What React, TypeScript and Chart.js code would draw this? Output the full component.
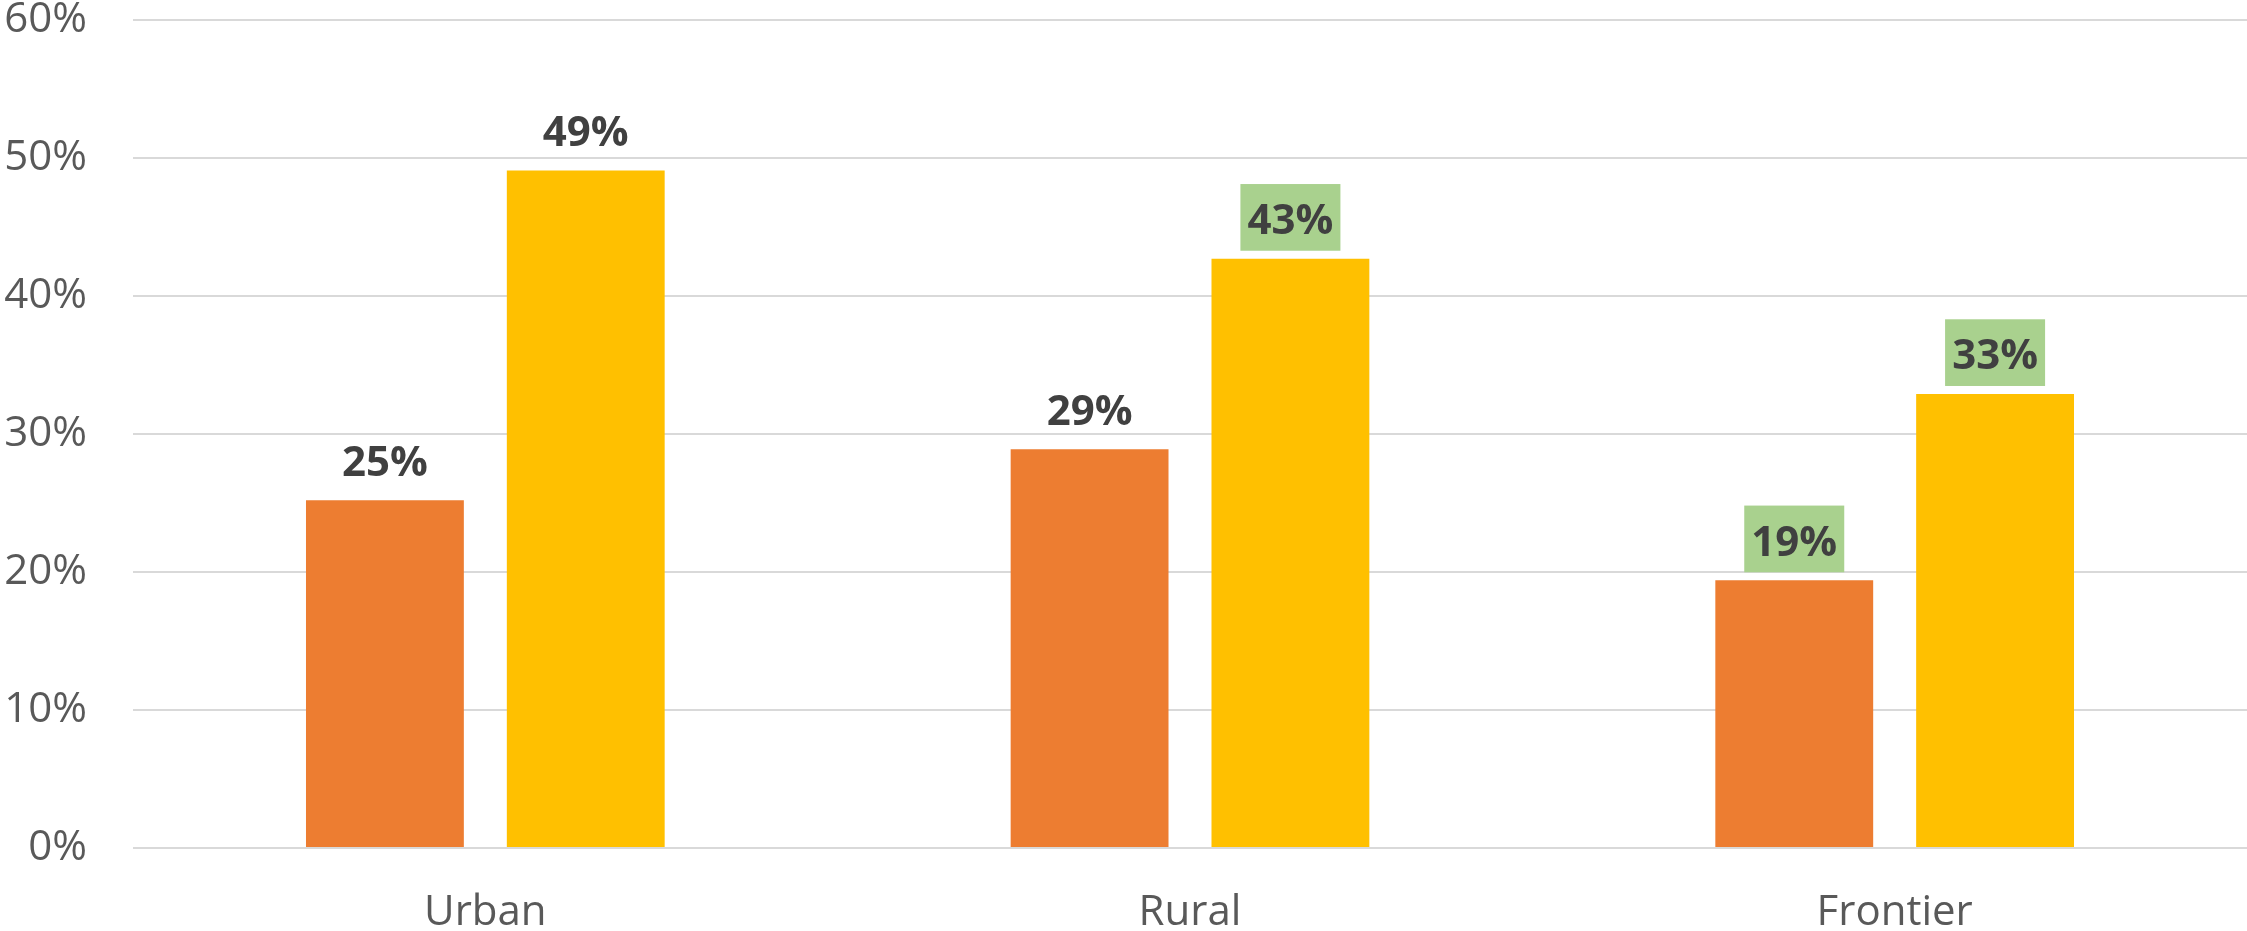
import { useEffect, useRef } from "react";
import { Chart, registerables } from "chart.js";

Chart.register(...registerables);

const categories = ["Urban", "Rural", "Frontier"];
const seriesAValues = [25.2, 28.9, 19.4];
const seriesBValues = [49.1, 42.7, 32.9];
const seriesAHighlight = [false, false, true];
const seriesBHighlight = [false, true, true];
const yMin = 0;
const yMax = 60;
const yStep = 10;

const FONT = "'Open Sans', 'Noto Sans', sans-serif";

const valueLabelPlugin = {
  id: "valueLabels",
  afterDatasetsDraw(chart: any) {
    const ctx = chart.ctx;
    chart.data.datasets.forEach((ds: any, di: number) => {
      const meta = chart.getDatasetMeta(di);
      meta.data.forEach((bar: any, i: number) => {
        const v = ds.data[i];
        const hl = ds.highlight && ds.highlight[i];
        const x = bar.x;
        const y = bar.y;
        ctx.save();
        if (hl) {
          ctx.fillStyle = "#A9D18E";
          ctx.fillRect(x - 50, y - 74.7, 100, 66.7);
        }
        ctx.font = `bold 42px ${FONT}`;
        ctx.fillStyle = "#404040";
        ctx.textAlign = "center";
        ctx.textBaseline = "alphabetic";
        ctx.fillText(Math.round(v) + "%", x, y - 24.5);
        ctx.restore();
      });
    });
  },
};

export default function App() {
  const canvasRef = useRef<HTMLCanvasElement | null>(null);

  useEffect(() => {
    document.body.style.margin = "0";
    const canvas = canvasRef.current;
    if (!canvas) return;
    const chart = new Chart(canvas, {
      type: "bar",
      data: {
        labels: categories,
        datasets: [
          {
            label: "Series A",
            data: seriesAValues,
            backgroundColor: "#ED7D31",
            borderWidth: 0,
            highlight: seriesAHighlight,
          } as any,
          {
            label: "Series B",
            data: seriesBValues,
            backgroundColor: "#FFC000",
            borderWidth: 0,
            highlight: seriesBHighlight,
          } as any,
        ],
      },
      options: {
        animation: false,
        responsive: true,
        maintainAspectRatio: false,
        layout: { padding: { top: 20, right: 0, left: 0, bottom: 0 } },
        datasets: {
          bar: { categoryPercentage: 0.57, barPercentage: 0.786 },
        },
        plugins: {
          legend: { display: false },
          tooltip: { enabled: false },
          title: { display: false },
        },
        scales: {
          x: {
            grid: { display: false, drawTicks: false },
            border: { display: false },
            ticks: {
              color: "#595959",
              font: { family: FONT, size: 42, lineHeight: 1.0 },
              padding: 44,
              maxRotation: 0,
            },
            afterFit(scale: any) {
              scale.height = 83;
              scale.paddingLeft = 0;
              scale.paddingRight = 0;
            },
          },
          y: {
            min: yMin,
            max: yMax,
            grid: { color: "#D9D9D9", lineWidth: 2, drawTicks: false },
            border: { display: false },
            ticks: {
              stepSize: yStep,
              color: "#595959",
              font: { family: FONT, size: 42, lineHeight: 0.9 },
              padding: 46,
              callback: (v: any) => v + "%",
            },
            afterFit(scale: any) {
              scale.width = 133;
              scale.paddingTop = 0;
              scale.paddingBottom = 0;
            },
          },
        },
      },
      plugins: [valueLabelPlugin],
    });
    return () => chart.destroy();
  }, []);

  return (
    <div style={{ width: "2247px", height: "931px", position: "relative" }}>
      <canvas ref={canvasRef} />
    </div>
  );
}
